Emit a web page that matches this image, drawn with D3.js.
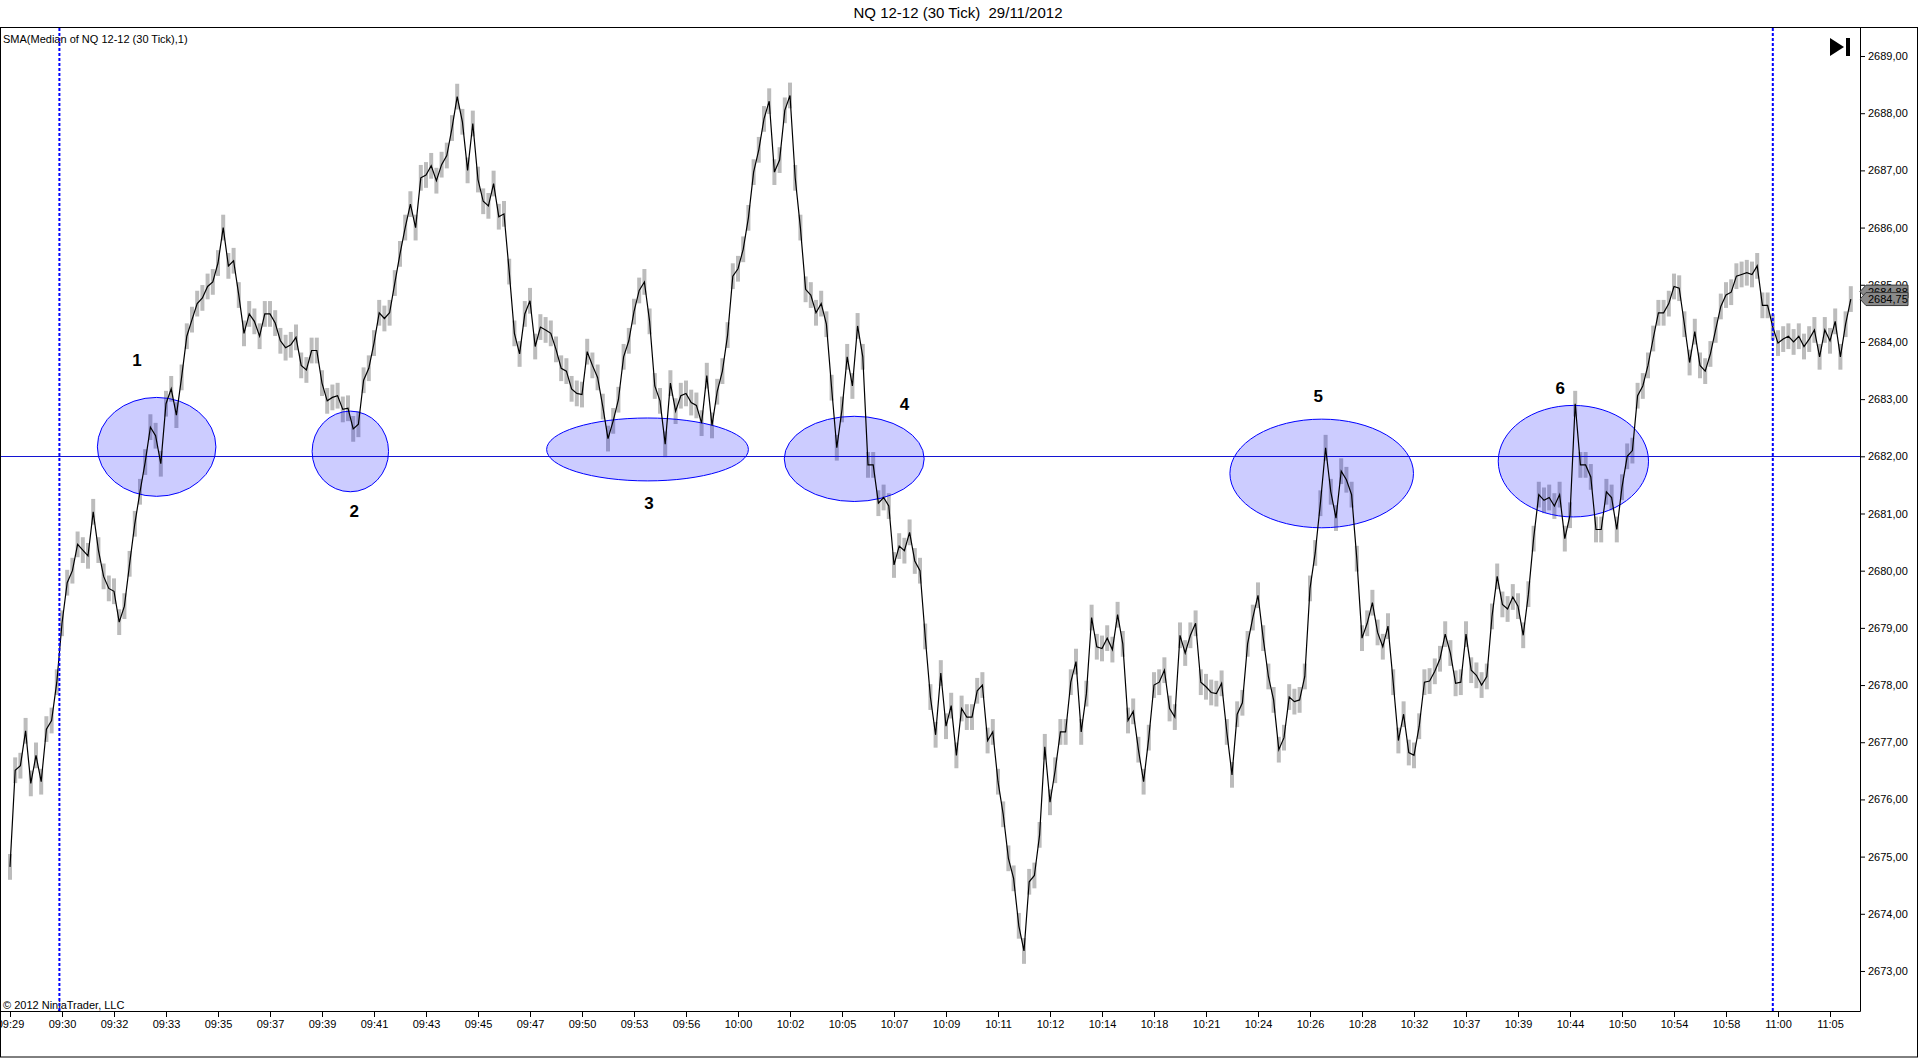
<!DOCTYPE html>
<html><head><meta charset="utf-8">
<script src="https://cdn.jsdelivr.net/npm/d3@7"></script>
<style>
html,body{margin:0;padding:0;background:#fff;overflow:hidden;}
svg{display:block;font-family:"Liberation Sans",Arial,sans-serif;}
</style></head><body>
<svg id="chart" width="1920" height="1058"></svg>
<script>
// ---------------- DATA ----------------
const titleText = "NQ 12-12 (30 Tick)  29/11/2012";
const indicatorLabel = "SMA(Median of NQ 12-12 (30 Tick),1)";
const copyrightText = "© 2012 NinjaTrader, LLC";

// x-axis labels, one every 10 bars
const timeLabels = ["09:29","09:30","09:32","09:33","09:35","09:37","09:39","09:41","09:43","09:45",
  "09:47","09:50","09:53","09:56","10:00","10:02","10:05","10:07","10:09","10:11","10:12","10:14",
  "10:18","10:21","10:24","10:26","10:28","10:32","10:37","10:39","10:44","10:50","10:54","10:58",
  "11:00","11:05"];
const barsPerLabel = 10;

// price axis ticks
const priceTicks = d3.range(2673, 2690, 1);

// SMA(Median,1) values, one per bar
const smaMedian = [
2674.82,2676.51,2676.59,2677.20,2676.28,2676.77,2676.31,2677.23,2677.38,2678.05,
2679.08,2679.79,2680.00,2680.46,2680.36,2680.26,2681.03,2680.36,2679.90,2679.69,
2679.64,2679.10,2679.38,2680.12,2680.82,2681.38,2681.90,2682.51,2682.36,2681.87,
2682.92,2683.18,2682.72,2683.38,2684.10,2684.39,2684.67,2684.77,2684.97,2685.05,
2685.38,2686.00,2685.33,2685.42,2684.82,2684.15,2684.49,2684.36,2684.10,2684.49,
2684.49,2684.33,2684.02,2683.90,2683.95,2684.08,2683.59,2683.51,2683.85,2683.85,
2683.28,2682.97,2683.03,2683.06,2682.82,2682.84,2682.48,2682.56,2683.33,2683.54,
2683.98,2684.51,2684.41,2684.51,2685.03,2685.54,2686.00,2686.41,2686.00,2686.87,
2686.92,2687.08,2686.82,2687.10,2687.26,2687.74,2688.29,2687.85,2687.00,2687.82,
2686.84,2686.46,2686.38,2686.77,2686.19,2686.24,2685.23,2684.15,2683.79,2684.49,
2684.72,2683.92,2684.26,2684.21,2684.15,2683.87,2683.54,2683.49,2683.18,2683.10,
2683.08,2683.83,2683.59,2683.38,2682.87,2682.31,2682.62,2682.99,2683.74,2684.02,
2684.53,2684.90,2685.05,2684.36,2683.23,2682.97,2682.21,2683.28,2682.79,2683.06,
2683.10,2682.94,2682.89,2682.58,2683.41,2682.54,2683.13,2683.49,2684.12,2685.15,
2685.28,2685.62,2686.17,2686.97,2687.36,2687.90,2688.21,2686.97,2687.18,2688.05,
2688.31,2686.87,2686.00,2684.92,2684.82,2684.51,2684.67,2684.31,2683.20,2682.15,
2682.82,2683.74,2683.23,2684.28,2683.74,2681.85,2681.85,2681.18,2681.28,2681.13,
2680.10,2680.43,2680.35,2680.67,2680.17,2680.00,2678.85,2677.79,2677.13,2678.21,
2677.28,2677.64,2676.77,2677.59,2677.44,2677.44,2677.90,2678.00,2677.03,2677.18,
2676.31,2675.74,2674.97,2674.62,2673.79,2673.35,2674.56,2674.67,2675.38,2676.92,
2675.95,2676.51,2677.18,2677.18,2678.05,2678.41,2677.18,2677.85,2679.18,2678.67,
2678.64,2678.82,2678.62,2679.23,2678.72,2677.38,2677.54,2676.87,2676.31,2677.08,
2678.00,2678.05,2678.26,2677.59,2677.44,2678.87,2678.56,2678.87,2679.08,2678.05,
2677.97,2677.87,2677.85,2678.03,2677.18,2676.43,2677.49,2677.69,2678.72,2679.18,
2679.57,2678.82,2678.15,2677.74,2676.87,2677.08,2677.79,2677.71,2677.74,2678.15,
2679.69,2680.31,2681.18,2682.15,2681.38,2680.92,2681.74,2681.59,2681.33,2680.21,
2678.82,2679.08,2679.44,2678.92,2678.67,2679.03,2678.05,2677.03,2677.49,2676.82,
2676.77,2677.28,2678.05,2678.07,2678.24,2678.46,2678.89,2678.56,2678.03,2678.05,
2678.89,2678.26,2678.17,2678.00,2678.15,2679.20,2679.90,2679.41,2679.33,2679.54,
2679.38,2678.87,2679.59,2680.56,2681.33,2681.23,2681.28,2681.13,2681.33,2680.56,
2680.97,2682.92,2681.85,2681.85,2681.64,2680.72,2680.72,2681.38,2681.28,2680.72,
2681.46,2682.00,2682.10,2683.06,2683.23,2683.59,2684.06,2684.51,2684.51,2684.67,
2684.97,2684.94,2684.31,2683.64,2684.18,2683.59,2683.49,2683.79,2684.21,2684.62,
2684.82,2684.87,2685.15,2685.18,2685.21,2685.18,2685.33,2684.64,2684.64,2684.26,
2683.98,2684.05,2684.10,2684.00,2684.10,2683.92,2684.05,2684.21,2683.74,2684.21,
2684.02,2684.36,2683.74,2684.31,2684.75];

// typical high-low range of a 30-tick bar (grey price bars behind the median line)
const typicalBarRange = 0.45;

// horizontal reference level
const referenceLevel = 2682.00;

// session breaks (bar index)
const sessionBreaks = [9.5, 339];

// annotation zones (bar index / price extents) and their labels
const zoneNames   = ["1","2","3","4","5","6"];
const zoneBarFrom = [16.8, 58.1, 103.2, 148.9, 234.6, 286.2];
const zoneBarTo   = [39.6, 72.8, 142.0, 175.8, 269.9, 315.1];
const zonePriceLo = [2681.30, 2681.38, 2681.57, 2681.21, 2680.75, 2680.94];
const zonePriceHi = [2683.03, 2682.79, 2682.67, 2682.70, 2682.65, 2682.89];
const zoneLabelBar   = [24.4, 66.2, 122.9, 172.0, 251.6, 298.1];
const zoneLabelPrice = [2683.69, 2681.05, 2681.18, 2682.92, 2683.06, 2683.20];

// last-value markers on the price axis
const lastValues = [2684.88, 2684.75];

// ---------------- CHART ----------------
const svg = d3.select("#chart");
const plotL = 0, plotR = 1860, plotT = 28, plotB = 1011;

const x = d3.scaleLinear().domain([0, 350]).range([10, 1830]);
const y = d3.scaleLinear().domain([2672.3, 2689.49]).range([plotB, plotT]);
const fmtPrice = d => d3.format(".2f")(d).replace(".", ",");

// background
svg.append("rect").attr("width", 1920).attr("height", 1058).attr("fill", "#fff");

// title
svg.append("text").attr("x", 958).attr("y", 18).attr("text-anchor", "middle")
  .style("font-size", "15px").style("white-space", "pre").attr("xml:space", "preserve")
  .attr("fill", "#000").text(titleText);

// frame
svg.append("rect").attr("x", 0.5).attr("y", 27.5).attr("width", 1917).attr("height", 1029.5)
  .attr("fill", "none").attr("stroke", "#000").attr("stroke-width", 1);

// clip
svg.append("clipPath").attr("id", "plotClip").append("rect")
  .attr("x", plotL + 1).attr("y", plotT).attr("width", plotR - plotL - 1).attr("height", plotB - plotT);
const plot = svg.append("g").attr("clip-path", "url(#plotClip)");

// indicator label and copyright
plot.append("text").attr("x", 3).attr("y", 43).style("font-size", "11px").attr("fill", "#000").text(indicatorLabel);
plot.append("text").attr("x", 3).attr("y", 1009).style("font-size", "11px").attr("fill", "#000").text(copyrightText);

// grey bars
plot.append("g").selectAll("rect").data(smaMedian).join("rect")
  .attr("x", (d, i) => x(i) - 2).attr("width", 4)
  .attr("y", d => y(d + typicalBarRange / 2))
  .attr("height", d => y(d - typicalBarRange / 2) - y(d + typicalBarRange / 2))
  .attr("fill", "#bcbcbc");

// reference line
plot.append("line").attr("x1", plotL).attr("x2", plotR)
  .attr("y1", Math.round(y(referenceLevel)) + 0.5).attr("y2", Math.round(y(referenceLevel)) + 0.5)
  .attr("stroke", "#1414d2").attr("stroke-width", 1);

// zones
const zones = zoneNames.map((n, k) => ({n, k}));
plot.append("g").selectAll("ellipse").data(zones).join("ellipse")
  .attr("cx", d => (x(zoneBarFrom[d.k]) + x(zoneBarTo[d.k])) / 2)
  .attr("cy", d => (y(zonePriceLo[d.k]) + y(zonePriceHi[d.k])) / 2)
  .attr("rx", d => (x(zoneBarTo[d.k]) - x(zoneBarFrom[d.k])) / 2)
  .attr("ry", d => (y(zonePriceLo[d.k]) - y(zonePriceHi[d.k])) / 2)
  .attr("fill", "rgba(0,0,255,0.2)").attr("stroke", "#0000ff").attr("stroke-width", 1);

// median line
const line = d3.line().x((d, i) => x(i)).y(d => y(d));
plot.append("path").datum(smaMedian).attr("d", line)
  .attr("fill", "none").attr("stroke", "#000").attr("stroke-width", 1.2).attr("stroke-linejoin", "miter");

// zone labels
plot.append("g").selectAll("text").data(zones).join("text")
  .attr("x", d => x(zoneLabelBar[d.k])).attr("y", d => y(zoneLabelPrice[d.k]))
  .attr("dy", "0.35em").attr("text-anchor", "middle")
  .style("font-size", "17px").style("font-weight", "bold").attr("fill", "#000")
  .text(d => d.n);

// session breaks
plot.append("g").selectAll("line").data(sessionBreaks).join("line")
  .attr("x1", d => x(d)).attr("x2", d => x(d)).attr("y1", plotT).attr("y2", plotB)
  .attr("stroke", "#0000ff").attr("stroke-width", 2).attr("stroke-dasharray", "3,2");

// go-to-end icon
svg.append("path").attr("d", "M1830,38 L1844,47 L1830,56 Z").attr("fill", "#000");
svg.append("rect").attr("x", 1846).attr("y", 38).attr("width", 4).attr("height", 18).attr("fill", "#000");

// x axis
const xAxis = d3.axisBottom(x)
  .tickValues(timeLabels.map((t, k) => k * barsPerLabel))
  .tickFormat((d, k) => timeLabels[k])
  .tickSize(6).tickPadding(3).tickSizeOuter(0);
const gx = svg.append("g").attr("transform", `translate(0,${plotB})`).call(xAxis);
gx.select(".domain").remove();
gx.selectAll("text").style("font-size", "11px").style("font-family", "'Liberation Sans',Arial,sans-serif").attr("fill", "#000");
gx.selectAll("line").attr("stroke", "#000");
svg.append("line").attr("x1", 0).attr("x2", plotR + 0.5).attr("y1", plotB + 0.5).attr("y2", plotB + 0.5).attr("stroke", "#000");

// y axis (right)
const yAxis = d3.axisRight(y).tickValues(priceTicks).tickFormat(fmtPrice)
  .tickSize(5).tickPadding(3).tickSizeOuter(0);
const gy = svg.append("g").attr("transform", `translate(${plotR},0)`).call(yAxis);
gy.select(".domain").remove();
gy.selectAll("text").style("font-size", "11px").style("font-family", "'Liberation Sans',Arial,sans-serif").attr("fill", "#000");
gy.selectAll("line").attr("stroke", "#000");
svg.append("line").attr("x1", plotR + 0.5).attr("x2", plotR + 0.5).attr("y1", plotT).attr("y2", plotB + 0.5).attr("stroke", "#000");

// last-value markers
const mk = svg.append("g").selectAll("g").data(lastValues).join("g");
mk.append("path").attr("d", d => {
  const c = y(d);
  return `M${plotR},${c} L${plotR + 6},${c - 6.5} L${plotR + 48},${c - 6.5} L${plotR + 48},${c + 6.5} L${plotR + 6},${c + 6.5} Z`;
}).attr("fill", "#8a8a8a").attr("stroke", "#3a3a3a").attr("stroke-width", 1);
mk.append("text").attr("x", plotR + 8).attr("y", d => y(d)).attr("dy", "0.36em")
  .style("font-size", "11px").attr("fill", "#000").text(fmtPrice);
</script>
</body></html>
